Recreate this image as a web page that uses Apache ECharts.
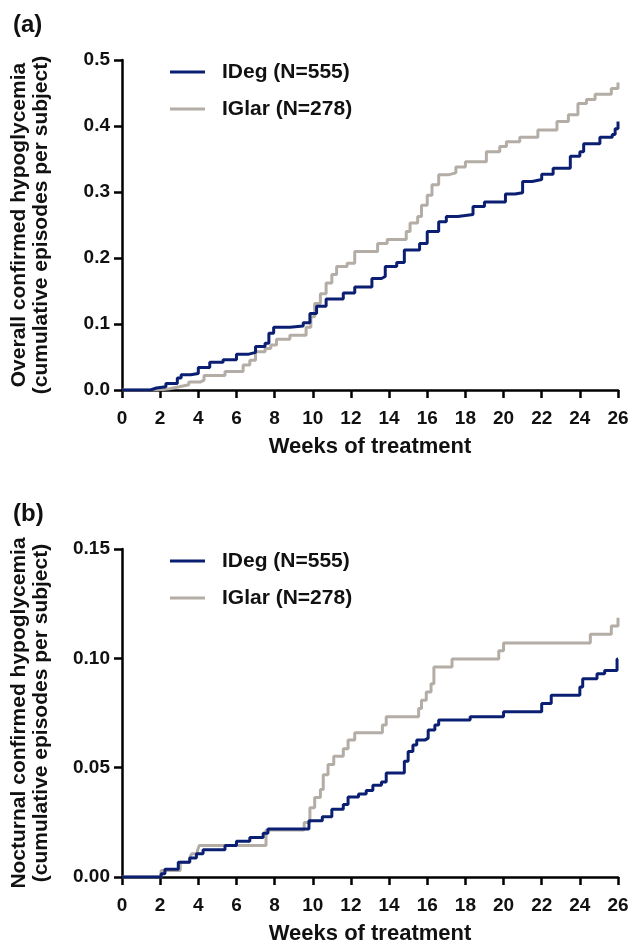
<!DOCTYPE html>
<html><head><meta charset="utf-8">
<script src="https://cdn.jsdelivr.net/npm/echarts@6/dist/echarts.min.js"></script>
<style>html,body{margin:0;padding:0;background:#fff}#c{width:632px;height:946px}</style>
</head><body><div id="c"></div>
<script>
const seriesNames = ['IDeg (N=555)', 'IGlar (N=278)'];
const panelLabels = ['(a)', '(b)'];
const yTitles = [
  'Overall confirmed hypoglycemia\n(cumulative episodes per subject)',
  'Nocturnal confirmed hypoglycemia\n(cumulative episodes per subject)'
];
const xTitle = 'Weeks of treatment';
const weekRange = [0, 26, 2];
const yRangeA = [0, 0.5, 0.1];
const yRangeB = [0, 0.15, 0.05];

// Panel (a): overall confirmed hypoglycemia (week of step, new cumulative value)
const overallIDegWeeks  = [0, 1.5, 1.8, 2.3, 2.9, 3.1, 3.6, 4.0, 4.6, 5.3, 6.0, 6.6, 7.0, 7.5, 7.7, 7.95, 8.8, 9.5, 9.85, 10.2, 10.7, 11.6, 12.2, 13.1, 13.6, 13.8, 14.4, 14.8, 15.6, 16.0, 16.6, 17.0, 17.6, 18.4, 19.0, 20.1, 20.6, 21.0, 21.5, 22.0, 22.6, 23.5, 24.0, 24.2, 25.05, 25.7, 25.85, 26];
const overallIDegValues = [0, 0.003, 0.005, 0.010, 0.018, 0.023, 0.025, 0.034, 0.042, 0.046, 0.054, 0.057, 0.066, 0.071, 0.086, 0.095, 0.097, 0.102, 0.116, 0.127, 0.138, 0.147, 0.156, 0.169, 0.172, 0.187, 0.193, 0.212, 0.222, 0.240, 0.255, 0.263, 0.266, 0.278, 0.285, 0.297, 0.299, 0.316, 0.319, 0.327, 0.336, 0.354, 0.361, 0.373, 0.383, 0.387, 0.396, 0.407];
const overallIGlarWeeks  = [0, 1.9, 2.5, 3.0, 3.5, 4.1, 4.3, 5.4, 6.35, 6.7, 7.0, 7.5, 7.8, 8.1, 8.8, 9.65, 9.9, 10.1, 10.4, 10.7, 11.0, 11.25, 11.8, 12.2, 13.4, 13.9, 14.9, 15.1, 15.5, 15.7, 16.0, 16.25, 16.6, 17.1, 17.5, 18.0, 19.1, 19.8, 20.15, 20.85, 21.8, 22.8, 23.4, 23.9, 24.35, 24.8, 25.65, 26];
const overallIGlarValues = [0, 0.002, 0.005, 0.008, 0.012, 0.015, 0.022, 0.028, 0.038, 0.045, 0.058, 0.063, 0.068, 0.077, 0.083, 0.095, 0.111, 0.131, 0.146, 0.162, 0.175, 0.187, 0.192, 0.210, 0.222, 0.228, 0.240, 0.253, 0.263, 0.280, 0.295, 0.311, 0.326, 0.329, 0.338, 0.346, 0.361, 0.369, 0.376, 0.383, 0.394, 0.407, 0.417, 0.434, 0.440, 0.448, 0.457, 0.466];

// Panel (b): nocturnal confirmed hypoglycemia
const noctIDegWeeks  = [0, 2.05, 2.25, 2.95, 3.55, 3.9, 4.25, 5.4, 6.0, 6.7, 7.4, 7.65, 9.8, 10.5, 11.0, 11.6, 11.85, 12.4, 12.8, 13.15, 13.6, 13.85, 14.8, 15.0, 15.25, 15.45, 15.9, 16.05, 16.4, 16.6, 18.25, 20.0, 22.0, 22.5, 24.0, 24.15, 24.9, 25.3, 25.95, 26];
const noctIDegValues = [0, 0.0015, 0.0035, 0.0068, 0.0087, 0.0106, 0.0125, 0.0144, 0.0163, 0.0181, 0.0200, 0.0219, 0.0257, 0.0275, 0.0310, 0.0332, 0.0366, 0.0380, 0.0396, 0.0420, 0.0435, 0.0476, 0.0529, 0.0574, 0.0604, 0.0627, 0.0635, 0.0672, 0.0695, 0.0718, 0.0733, 0.0756, 0.0793, 0.0831, 0.0869, 0.0907, 0.0929, 0.0944, 0.0997, 0.0997];
const noctIGlarWeeks  = [0, 2.05, 3.05, 3.55, 3.65, 3.95, 4.05, 7.55, 9.55, 9.85, 10.1, 10.4, 10.55, 10.8, 11.1, 11.6, 11.85, 12.2, 13.65, 13.85, 15.55, 15.7, 15.95, 16.2, 16.35, 17.3, 19.75, 20.0, 24.55, 25.65, 26];
const noctIGlarValues = [0, 0.0030, 0.0068, 0.0087, 0.0106, 0.0120, 0.0144, 0.0215, 0.0249, 0.0317, 0.0363, 0.0400, 0.0468, 0.0514, 0.0552, 0.0586, 0.0627, 0.0660, 0.0695, 0.0733, 0.0771, 0.0808, 0.0846, 0.0884, 0.0960, 0.0997, 0.1035, 0.1070, 0.1110, 0.1148, 0.1186];

const colors = ['#0b1f72', '#b3ada6'];
const FONT = "'Liberation Sans', Arial, sans-serif";
const pairs = (w, v) => w.map((x, i) => [x, v[i]]);

function xAxisCfg(gi) {
  return {
    gridIndex: gi, type: 'value', min: weekRange[0], max: weekRange[1], interval: weekRange[2],
    name: xTitle, nameLocation: 'middle', nameGap: 46,
    nameTextStyle: {fontFamily: FONT, fontWeight: 'bold', fontSize: 22, color: '#111'},
    axisLine: {onZero: false, lineStyle: {color: '#000', width: 2.5}},
    axisTick: {inside: false, length: 8, lineStyle: {color: '#000', width: 2.5}},
    axisLabel: {margin: 19, fontFamily: FONT, fontWeight: 'bold', fontSize: 19, color: '#111'},
    splitLine: {show: false}
  };
}
function yAxisCfg(gi, r, dec, title) {
  return {
    gridIndex: gi, type: 'value', min: r[0], max: r[1], interval: r[2],
    name: title, nameLocation: 'middle', nameRotate: 90, nameGap: 70,
    nameTextStyle: {fontFamily: FONT, fontWeight: 'bold', fontSize: 21, lineHeight: 22, color: '#111', align: 'center'},
    axisLine: {lineStyle: {color: '#000', width: 2.5}},
    axisTick: {inside: false, length: 8, lineStyle: {color: '#000', width: 2.5}},
    axisLabel: {margin: 12, fontFamily: FONT, fontWeight: 'bold', fontSize: 19, color: '#111',
      formatter: v => v.toFixed(dec)},
    splitLine: {show: false}
  };
}
function legendCfg(top) {
  return {
    orient: 'vertical', left: 165, top: top, itemWidth: 35, itemHeight: 3, itemGap: 15,
    icon: 'rect', data: seriesNames, selectedMode: false,
    textStyle: {fontFamily: FONT, fontWeight: 'bold', fontSize: 21, lineHeight: 22, color: '#111', padding: [0, 0, 0, 12]}
  };
}
function line(name, xi, data, color, z) {
  return {
    type: 'line', name: name, xAxisIndex: xi, yAxisIndex: xi, data: data, step: 'end',
    showSymbol: false, symbol: 'none', z: z, color: color,
    itemStyle: {color: color},
    lineStyle: {color: color, width: 3}, clip: true
  };
}

const chart = echarts.init(document.getElementById('c'), null, {renderer: 'canvas'});
chart.setOption({
  animation: false,
  backgroundColor: '#fff',
  title: [
    {text: panelLabels[0], left: 8, top: 8, textStyle: {fontFamily: FONT, fontWeight: 'bold', fontSize: 24, color: '#111'}},
    {text: panelLabels[1], left: 8, top: 497, textStyle: {fontFamily: FONT, fontWeight: 'bold', fontSize: 24, color: '#111'}}
  ],
  legend: [legendCfg(56), legendCfg(545)],
  grid: [
    {left: 122, width: 496, top: 60, height: 330},
    {left: 122, width: 496, top: 549, height: 331}
  ],
  xAxis: [xAxisCfg(0), xAxisCfg(1)],
  yAxis: [yAxisCfg(0, yRangeA, 1, yTitles[0]), yAxisCfg(1, yRangeB, 2, yTitles[1])],
  series: [
    line(seriesNames[1], 0, pairs(overallIGlarWeeks, overallIGlarValues), colors[1], 2),
    line(seriesNames[0], 0, pairs(overallIDegWeeks, overallIDegValues), colors[0], 3),
    line(seriesNames[1], 1, pairs(noctIGlarWeeks, noctIGlarValues), colors[1], 2),
    line(seriesNames[0], 1, pairs(noctIDegWeeks, noctIDegValues), colors[0], 3)
  ]
});
</script></body></html>
